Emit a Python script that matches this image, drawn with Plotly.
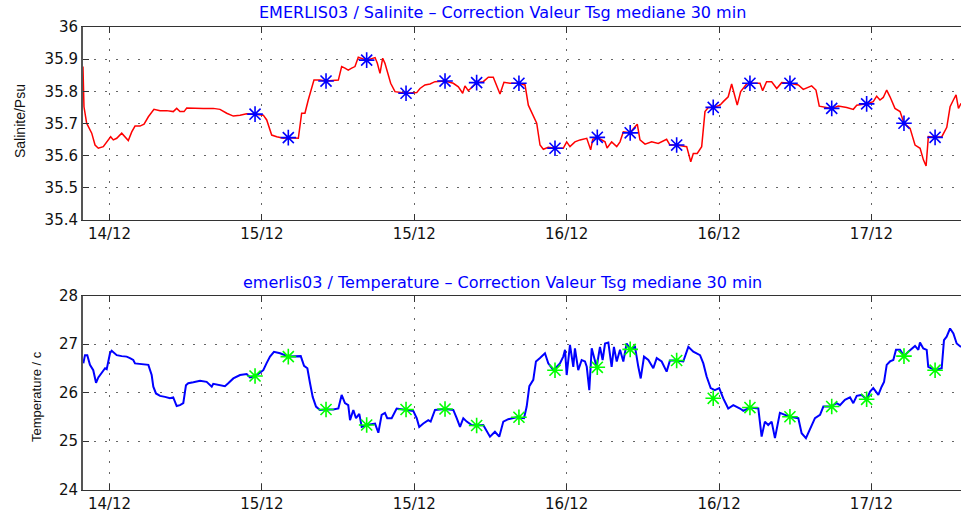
import plotly.graph_objects as go

# ---- data (time in hours since 14/12 00:00) ----
sal_hours = [9.91, 9.99, 10.20, 10.60, 10.86, 11.12, 11.51, 11.78, 12.09, 12.30,
             12.57, 12.96, 13.22, 13.48, 13.75, 14.01, 14.40, 14.72, 15.06, 15.50,
             15.98, 16.50, 17.02, 17.29, 17.55, 17.87, 18.08, 18.60, 19.39, 20.17,
             20.70, 21.23, 21.75, 22.28, 22.80, 23.46, 24.11, 24.38, 24.77, 25.17,
             25.69, 26.08, 26.87, 27.13, 27.39, 27.65, 27.92, 28.10, 28.57, 29.05,
             30.02, 30.28, 30.54, 30.80, 31.07, 31.33, 31.59, 32.25, 32.91, 33.09,
             33.30, 33.51, 33.69, 33.87, 34.14, 34.48, 35.35, 36.19, 36.45, 36.84,
             37.24, 37.63, 38.42, 39.07, 39.47, 39.81, 39.99, 40.25, 40.91, 41.43,
             41.83, 42.22, 42.49, 42.75, 43.06, 43.54, 44.24, 44.72, 44.98, 45.37,
             45.64, 45.90, 46.16, 46.55, 47.08, 47.73, 48.00, 48.26, 48.65, 49.05,
             49.58, 49.89, 50.05, 50.41, 51.02, 51.18, 51.54, 51.94, 52.20, 52.46,
             52.98, 53.38, 53.56, 53.77, 54.17, 54.69, 55.21, 55.87, 56.13, 56.66,
             57.45, 57.77, 57.97, 58.28, 58.63, 58.89, 59.15, 59.54, 60.07, 60.33,
             60.72, 60.99, 61.25, 61.43, 61.70, 62.17, 62.43, 63.22, 63.43, 63.74,
             64.14, 64.54, 64.93, 65.58, 66.24, 66.63, 67.29, 67.63, 67.89, 68.34,
             68.87, 69.39, 70.05, 70.57, 70.84, 71.62, 72.14, 72.41, 72.67, 72.93,
             73.20, 73.46, 73.85, 74.25, 74.56, 75.04, 75.43, 75.83, 76.09, 76.30,
             76.48, 77.01, 77.54, 77.93, 78.19, 78.45, 78.66, 78.85, 79.06]
sal_values = [35.877, 35.752, 35.701, 35.670, 35.633, 35.623, 35.628, 35.643, 35.659, 35.649,
              35.654, 35.670, 35.659, 35.647, 35.674, 35.692, 35.692, 35.698, 35.721, 35.744,
              35.740, 35.740, 35.737, 35.747, 35.737, 35.737, 35.748, 35.747, 35.747, 35.747,
              35.744, 35.732, 35.723, 35.726, 35.730, 35.729, 35.726, 35.711, 35.664, 35.659,
              35.654, 35.656, 35.654, 35.732, 35.732, 35.773, 35.814, 35.835, 35.835, 35.832,
              35.835, 35.877, 35.872, 35.866, 35.872, 35.877, 35.906, 35.897, 35.905, 35.887,
              35.856, 35.903, 35.887, 35.861, 35.825, 35.799, 35.794, 35.796, 35.809, 35.820,
              35.823, 35.830, 35.832, 35.825, 35.814, 35.794, 35.817, 35.802, 35.827, 35.830,
              35.844, 35.844, 35.820, 35.792, 35.828, 35.825, 35.825, 35.820, 35.757, 35.721,
              35.701, 35.633, 35.620, 35.626, 35.623, 35.623, 35.643, 35.628, 35.643, 35.649,
              35.654, 35.618, 35.651, 35.657, 35.643, 35.624, 35.643, 35.628, 35.643, 35.674,
              35.671, 35.690, 35.698, 35.649, 35.636, 35.643, 35.638, 35.651, 35.633, 35.633,
              35.628, 35.581, 35.607, 35.607, 35.628, 35.737, 35.750, 35.750, 35.757, 35.768,
              35.783, 35.823, 35.783, 35.757, 35.799, 35.823, 35.825, 35.825, 35.802, 35.830,
              35.830, 35.809, 35.827, 35.825, 35.820, 35.806, 35.817, 35.804, 35.754, 35.750,
              35.747, 35.754, 35.750, 35.744, 35.757, 35.761, 35.768, 35.785, 35.773, 35.781,
              35.804, 35.783, 35.747, 35.737, 35.701, 35.685, 35.633, 35.623, 35.587, 35.568,
              35.659, 35.657, 35.659, 35.688, 35.752, 35.773, 35.789, 35.747, 35.763]

temp_hours = [9.94, 10.07, 10.25, 10.46, 10.72, 10.94, 11.12, 11.39, 11.65, 11.78,
              12.04, 12.17, 12.57, 12.96, 13.35, 13.61, 13.87, 14.01, 14.40, 14.80,
              15.06, 15.32, 15.45, 15.66, 15.98, 16.37, 16.76, 17.02, 17.29, 17.55,
              17.81, 18.02, 18.20, 18.60, 19.13, 19.65, 20.05, 20.17, 20.70, 21.09,
              21.35, 21.75, 22.28, 22.80, 23.06, 23.46, 23.85, 24.11, 24.38, 24.64,
              24.95, 25.43, 26.08, 26.47, 27.06, 27.32, 27.58, 27.79, 28.00, 28.26,
              28.57, 28.97, 29.62, 30.02, 30.28, 30.54, 30.80, 30.94, 31.20, 31.41,
              31.67, 31.86, 32.25, 32.91, 33.17, 33.43, 33.69, 33.87, 34.22, 34.61,
              35.35, 35.92, 36.19, 36.39, 36.71, 37.10, 37.29, 37.63, 38.42, 39.07,
              39.34, 39.60, 39.86, 40.13, 40.52, 40.91, 41.43, 41.96, 42.35, 42.69,
              43.01, 43.40, 44.06, 44.64, 44.85, 45.06, 45.37, 45.58, 45.90, 46.29,
              46.55, 46.95, 47.47, 47.73, 47.87, 48.00, 48.26, 48.52, 48.65, 48.91,
              49.18, 49.44, 49.58, 49.78, 49.97, 50.36, 50.62, 50.83, 51.02, 51.28,
              51.54, 51.72, 51.94, 52.20, 52.46, 52.72, 53.04, 53.38, 53.64, 53.83,
              54.09, 54.43, 54.82, 55.09, 55.48, 55.87, 56.13, 56.61, 57.18, 57.58,
              57.97, 58.50, 58.76, 59.02, 59.34, 59.67, 60.01, 60.33, 60.72, 61.12,
              61.65, 61.91, 62.43, 63.09, 63.35, 63.61, 63.87, 64.14, 64.40, 64.79,
              65.19, 65.58, 66.24, 66.50, 66.84, 67.16, 67.55, 67.95, 68.21, 68.79,
              69.26, 69.52, 69.91, 70.31, 70.57, 70.84, 71.23, 71.62, 71.89, 72.14,
              72.54, 72.80, 72.99, 73.20, 73.46, 73.72, 73.93, 74.25, 74.56, 74.90,
              75.17, 75.43, 75.69, 75.82, 76.08, 76.35, 76.47, 77.01, 77.53, 77.71,
              77.92, 78.19, 78.45, 78.71, 79.05]
temp_values = [26.60, 26.77, 26.77, 26.57, 26.46, 26.20, 26.31, 26.40, 26.50, 26.48,
               26.81, 26.86, 26.77, 26.75, 26.74, 26.71, 26.67, 26.60, 26.59, 26.57,
               26.57, 26.36, 26.12, 25.98, 25.93, 25.91, 25.88, 25.90, 25.72, 25.74,
               25.78, 26.15, 26.19, 26.21, 26.24, 26.22, 26.12, 26.18, 26.15, 26.13,
               26.19, 26.29, 26.36, 26.38, 26.31, 26.34, 26.41, 26.46, 26.61, 26.74,
               26.84, 26.81, 26.74, 26.75, 26.75, 26.55, 26.50, 26.19, 25.91, 25.71,
               25.64, 25.65, 25.65, 25.67, 25.95, 25.78, 25.74, 25.43, 25.64, 25.47,
               25.56, 25.29, 25.33, 25.36, 25.17, 25.54, 25.58, 25.47, 25.47, 25.67,
               25.65, 25.62, 25.47, 25.29, 25.36, 25.43, 25.40, 25.64, 25.66, 25.64,
               25.47, 25.29, 25.47, 25.40, 25.33, 25.32, 25.33, 25.09, 25.19, 25.09,
               25.40, 25.45, 25.49, 25.47, 25.71, 26.13, 26.26, 26.64, 26.71, 26.81,
               26.60, 26.46, 26.60, 26.74, 26.88, 26.36, 26.98, 26.53, 26.91, 26.46,
               26.67, 26.64, 26.53, 26.05, 26.91, 26.52, 26.94, 26.67, 27.01, 27.03,
               26.53, 26.94, 26.64, 26.88, 26.64, 27.01, 26.89, 26.94, 26.53, 26.29,
               26.74, 26.67, 26.50, 26.71, 26.64, 26.43, 26.66, 26.66, 26.64, 26.94,
               26.84, 26.77, 26.60, 26.33, 26.09, 26.05, 26.09, 25.88, 25.67, 25.74,
               25.67, 25.62, 25.69, 25.67, 25.09, 25.40, 25.33, 25.40, 25.06, 25.58,
               25.54, 25.50, 25.47, 25.16, 25.06, 25.26, 25.47, 25.54, 25.71, 25.71,
               25.78, 25.74, 25.85, 25.90, 25.78, 25.93, 25.95, 25.86, 26.02, 26.09,
               25.95, 26.12, 26.22, 26.57, 26.64, 26.67, 26.88, 26.88, 26.75, 26.84,
               26.91, 26.96, 26.88, 27.03, 26.91, 26.88, 26.53, 26.46, 26.50, 27.08,
               27.15, 27.32, 27.22, 27.01, 26.94]

marker_hours = [23.46, 26.08, 29.05, 32.25, 35.35, 38.42, 40.91, 44.24, 47.08, 50.41,
                53.00, 56.66, 59.54, 62.43, 65.58, 68.87, 71.62, 74.56, 77.01]
sal_marker_values = [35.729, 35.656, 35.832, 35.897, 35.794, 35.832, 35.827, 35.825, 35.623, 35.657,
                     35.671, 35.633, 35.750, 35.825, 35.825, 35.747, 35.761, 35.701, 35.657]
temp_marker_values = [26.34, 26.74, 25.65, 25.33, 25.65, 25.66, 25.32, 25.49, 26.46, 26.52,
                      26.89, 26.66, 25.88, 25.69, 25.50, 25.71, 25.86, 26.75, 26.46]

tick_hours = [12, 24, 36, 48, 60, 72]
tick_labels = ["14/12", "15/12", "15/12", "16/12", "16/12", "17/12"]
sal_ticks = [35.4, 35.5, 35.6, 35.7, 35.8, 35.9, 36.0]
sal_tick_labels = ["35.4", "35.5", "35.6", "35.7", "35.8", "35.9", "36"]
temp_ticks = [24, 25, 26, 27, 28]

W, H = 961, 512
FONT = "DejaVu Sans"

fig = go.Figure()
fig.add_trace(go.Scatter(x=sal_hours, y=sal_values, mode="lines",
                         line=dict(color="#ff0000", width=1.5), xaxis="x", yaxis="y"))
fig.add_trace(go.Scatter(x=marker_hours, y=sal_marker_values, mode="markers",
                         marker=dict(symbol="asterisk-open", size=13, color="#0000ff",
                                     line=dict(color="#0000ff", width=1.6)),
                         xaxis="x", yaxis="y"))
fig.add_trace(go.Scatter(x=temp_hours, y=temp_values, mode="lines",
                         line=dict(color="#0000ff", width=2), xaxis="x2", yaxis="y2"))
fig.add_trace(go.Scatter(x=marker_hours, y=temp_marker_values, mode="markers",
                         marker=dict(symbol="asterisk-open", size=13, color="#00ff00",
                                     line=dict(color="#00ff00", width=1.6)),
                         xaxis="x2", yaxis="y2"))

xrange = [9.913, 79.05]
grid = dict(showgrid=True, gridcolor="#666666", gridwidth=1, griddash="2px,9px")
xcommon = dict(range=xrange, tickmode="array", tickvals=tick_hours, ticktext=tick_labels,
               ticks="inside", ticklen=6, tickcolor="#333333", showline=True,
               linecolor="#333333", linewidth=1, mirror="ticks", zeroline=False,
               tickfont=dict(family=FONT, size=15, color="#111111"), **grid)
ycommon = dict(ticks="inside", ticklen=6, tickcolor="#333333", showline=True,
               linecolor="#555555", linewidth=2, mirror=False, zeroline=False,
               tickfont=dict(family=FONT, size=15, color="#111111"), **grid)

top_dom = [1 - 220 / H, 1 - 27 / H]
bot_dom = [1 - 489.5 / H, 1 - 295.5 / H]

fig.update_layout(
    width=W, height=H,
    margin=dict(l=83, r=0, t=0, b=0, autoexpand=False),
    paper_bgcolor="white", plot_bgcolor="white",
    showlegend=False,
    xaxis=dict(anchor="y", domain=[0, 1], **xcommon),
    yaxis=dict(anchor="x", domain=top_dom, range=[35.4, 36.0], tickmode="array",
               tickvals=sal_ticks, ticktext=sal_tick_labels, **ycommon),
    xaxis2=dict(anchor="y2", domain=[0, 1], **xcommon),
    yaxis2=dict(anchor="x2", domain=bot_dom, range=[24, 28], tickmode="array",
                tickvals=temp_ticks, ticktext=[str(v) for v in temp_ticks], **ycommon),
    annotations=[
        dict(text="EMERLIS03 / Salinite \u2013 Correction Valeur Tsg mediane 30 min",
             xref="paper", yref="paper", x=(502 - 83) / (W - 83), y=1 - 12 / H,
             xanchor="center", yanchor="middle", showarrow=False,
             font=dict(family=FONT, size=16, color="#0000ff")),
        dict(text="emerlis03 / Temperature \u2013 Correction Valeur Tsg mediane 30 min",
             xref="paper", yref="paper", x=(502 - 83) / (W - 83), y=1 - 282 / H,
             xanchor="center", yanchor="middle", showarrow=False,
             font=dict(family=FONT, size=16, color="#0000ff")),
        dict(text="Salinite/Psu", xref="paper", yref="paper",
             x=(20 - 83) / (W - 83), y=1 - 121 / H, textangle=-90,
             xanchor="center", yanchor="middle", showarrow=False,
             font=dict(family="Liberation Sans", size=14, color="#111111")),
        dict(text="Temperature / c", xref="paper", yref="paper",
             x=(36 - 83) / (W - 83), y=1 - 397 / H, textangle=-90,
             xanchor="center", yanchor="middle", showarrow=False,
             font=dict(family="Liberation Sans", size=13, color="#111111")),
    ],
)

fig.write_html("out.html", config={"displayModeBar": False},
               post_script="document.body.style.margin='0';document.body.style.padding='0';")
